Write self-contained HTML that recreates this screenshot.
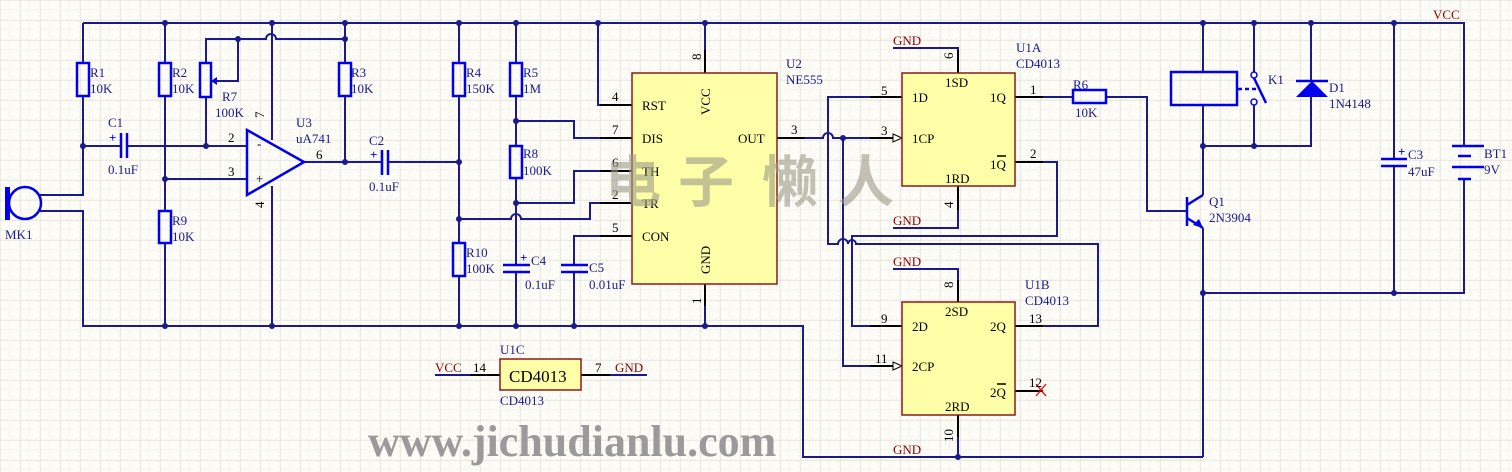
<!DOCTYPE html>
<html><head><meta charset="utf-8"><style>
html,body{margin:0;padding:0;background:#fdfcf7;}
svg{display:block;}
text{font-family:"Liberation Serif",serif;font-size:13px;fill:#1a1a8c;}
.r{fill:#8b0000;}
.k{fill:#000;}
.wm{font-family:"Noto Sans CJK SC",sans-serif;font-size:56px;font-weight:bold;fill:#9c9a86;opacity:0.6;}
</style></head><body>
<svg width="1512" height="472" viewBox="0 0 1512 472" xmlns="http://www.w3.org/2000/svg">
<defs>
<pattern id="g1" width="10" height="10" patternUnits="userSpaceOnUse"><path d="M10 0V10M0 10H10" stroke="#e6e4de" stroke-width="1" stroke-dasharray="3,2" fill="none"/></pattern>
<pattern id="g2" width="20" height="20" patternUnits="userSpaceOnUse"><path d="M0 0V20M0 0H20" stroke="#dcdad4" stroke-width="1" fill="none"/></pattern>
</defs>
<rect width="1512" height="472" fill="#fdfcf7"/>
<rect width="1512" height="472" fill="url(#g1)"/>
<rect width="1512" height="472" fill="url(#g2)"/>

<text x="368" y="456" style="font-size:44px;font-weight:bold;fill:#9a9a9a;">www.jichudianlu.com</text>

<!-- wires -->
<g stroke="#1a1a8c" stroke-width="2" fill="none">
<path d="M83 23H1464V146"/>
<path d="M83 23V63M83 96V195H40M40 211H83V326H803V457H1203"/>
<path d="M83 146H121M127 146H247"/>
<path d="M165 23V63M165 96V211M165 243V326"/>
<path d="M165 179H247"/>
<path d="M206 146V97M206 63V39H266a5 5 0 0 1 10 0H345"/>
<path d="M238 39V81H213"/>
<path d="M272 23V140M272 186V326"/>
<path d="M304 162H382M388 162H459"/>
<path d="M345 23V63M345 96V162"/>
<path d="M459 23V63M459 96V243M459 276V326"/>
<path d="M459 219H511a5 5 0 0 1 10 0H590V203H632"/>
<path d="M516 23V63M516 96V146M516 178V265M516 272V326"/>
<path d="M516 121H574V138H632"/>
<path d="M516 203H574V171H632"/>
<path d="M598 23V105H632"/>
<path d="M574 326V272M574 265V236H632"/>
<path d="M705 23V73M705 284V326"/>
<path d="M777 138H823a5 5 0 0 1 10 0H893"/>
<path d="M902 97H828V244H838a5 5 0 0 1 10 0h0a4 4 0 0 1 8 0H1098V326H1015"/>
<path d="M843 138V366H893"/>
<path d="M1015 162H1057V236H852V326H902"/>
<path d="M893 48H958V73M893 228H958V186M893 269H958V302M958 415V457"/>
<path d="M1015 97H1073M1106 97H1147V211H1187"/>
<path d="M1203 23V72M1203 105V195M1203 228V457"/>
<path d="M1203 146H1311V97M1311 23V81M1254 23V72M1254 105V146"/>
<path d="M1394 23V159M1394 166V293M1464 179V293H1203"/>
<path d="M435 375H500M581 375H647"/>
</g>
<g stroke="#000" stroke-width="2">
<path d="M600 105H632M600 138H632M600 171H632M600 203H632M600 236H632M705 50V73M705 284V306M777 138H805"/>
<path d="M870 97H902M870 138H893M958 50V73M958 186V210M1015 97H1043M1015 162H1043"/>
<path d="M870 326H902M870 366H893M958 280V302M958 415V437M1015 326H1043M1015 391H1043"/>
<path d="M470 375H500M581 375H610"/>
</g>
<path d="M893 134L902 138L893 142Z" fill="#fff" stroke="#000" stroke-width="1"/>
<path d="M893 362L902 366L893 370Z" fill="#fff" stroke="#000" stroke-width="1"/>
<g fill="#1a1a8c">
<circle cx="165" cy="23" r="3"/><circle cx="272" cy="23" r="3"/><circle cx="345" cy="23" r="3"/><circle cx="459" cy="23" r="3"/><circle cx="516" cy="23" r="3"/><circle cx="598" cy="23" r="3"/><circle cx="705" cy="23" r="3"/>
<circle cx="1203" cy="23" r="3"/><circle cx="1254" cy="23" r="3"/><circle cx="1311" cy="23" r="3"/><circle cx="1394" cy="23" r="3"/>
<circle cx="83" cy="146" r="3"/><circle cx="206" cy="146" r="3"/><circle cx="165" cy="179" r="3"/><circle cx="238" cy="39" r="3"/><circle cx="345" cy="39" r="3"/><circle cx="345" cy="162" r="3"/>
<circle cx="459" cy="162" r="3"/><circle cx="459" cy="219" r="3"/><circle cx="516" cy="121" r="3"/><circle cx="516" cy="203" r="3"/>
<circle cx="165" cy="326" r="3"/><circle cx="272" cy="326" r="3"/><circle cx="459" cy="326" r="3"/><circle cx="516" cy="326" r="3"/><circle cx="574" cy="326" r="3"/><circle cx="705" cy="326" r="3"/>
<circle cx="843" cy="138" r="3"/><circle cx="958" cy="457" r="3"/><circle cx="1203" cy="146" r="3"/><circle cx="1254" cy="146" r="3"/><circle cx="1203" cy="293" r="3"/><circle cx="1394" cy="293" r="3"/>
</g>
<g stroke="#0000ee" stroke-width="2.5" fill="none">
<rect x="77" y="63" width="12" height="33"/>
<rect x="159" y="63" width="12" height="33"/>
<rect x="200" y="63" width="11" height="34"/>
<rect x="339" y="63" width="12" height="33"/>
<rect x="159" y="211" width="12" height="32"/>
<rect x="453" y="63" width="12" height="33"/>
<rect x="510" y="63" width="12" height="33"/>
<rect x="510" y="146" width="12" height="32"/>
<rect x="453" y="243" width="12" height="33"/>
<rect x="1073" y="90" width="33" height="13"/>
<rect x="1171" y="72" width="66" height="33"/>
<path d="M121 133V158M127 133V158M382 150V175M388 150V175"/>
<path d="M503 265H530M503 272H530M561 265H588M561 272H588"/>
<path d="M1381 159H1407M1381 166H1407"/>
<path d="M1452 146H1484M1458 156H1471M1452 167H1484M1458 179H1471"/>
<path d="M247 130V195L304 162Z"/>
<path d="M1187 197V226M1187 205L1203 195M1187 218L1203 228"/>
<path d="M1254 78L1266 103"/>
<path d="M1238 89H1258" stroke-dasharray="4,3"/>
<path d="M1296 81H1328"/>
<circle cx="25" cy="203" r="16"/>
</g>
<path d="M211 81L217 77V85Z" fill="#0000ee"/>
<path d="M1296 97L1312 81L1328 97Z" fill="#0000ee"/>
<path d="M1203 228L1193 225L1199 219Z" fill="#0000ee"/>
<circle cx="1254" cy="75" r="3" fill="#fff" stroke="#0000ee" stroke-width="1.5"/>
<circle cx="1254" cy="102" r="3" fill="#fff" stroke="#0000ee" stroke-width="1.5"/>
<rect x="5" y="187" width="5" height="33" fill="#0000ee"/>
<path d="M1036 384l10 12M1046 384l-10 12" stroke="#e00" stroke-width="1.3"/>
<text x="109" y="142" style="fill:#0000ee;font-weight:bold">+</text>
<text x="370" y="159" style="fill:#0000ee;font-weight:bold">+</text>
<text x="520" y="262" style="fill:#0000ee;font-weight:bold">+</text>
<text x="1398" y="156" style="fill:#0000ee;font-weight:bold">+</text>
<g fill="#ffffa8" stroke="#8b1a1a" stroke-width="1.5">
<rect x="632" y="73" width="145" height="211"/>
<rect x="902" y="73" width="113" height="113"/>
<rect x="902" y="302" width="113" height="113"/>
<rect x="500" y="359" width="81" height="31"/>
</g>
<text x="90" y="77">R1</text><text x="90" y="93">10K</text>
<text x="172" y="77">R2</text><text x="172" y="93">10K</text>
<text x="222" y="101">R7</text><text x="215" y="117">100K</text>
<text x="351" y="77">R3</text><text x="351" y="93">10K</text>
<text x="172" y="225">R9</text><text x="172" y="241">10K</text>
<text x="108" y="127">C1</text><text x="108" y="174">0.1uF</text>
<text x="369" y="145">C2</text><text x="369" y="191">0.1uF</text>
<text x="296" y="127">U3</text><text x="296" y="143">uA741</text>
<text x="5" y="239">MK1</text>
<text x="228" y="142" class="k">2</text><text x="228" y="176" class="k">3</text><text x="316" y="159" class="k">6</text>
<text x="257" y="148" class="k">-</text><text x="256" y="183" class="k">+</text>
<text class="k" transform="translate(264,118) rotate(-90)">7</text>
<text class="k" transform="translate(264,208) rotate(-90)">4</text>
<text x="466" y="77">R4</text><text x="466" y="93">150K</text>
<text x="523" y="77">R5</text><text x="523" y="93">1M</text>
<text x="523" y="158">R8</text><text x="523" y="175">100K</text>
<text x="466" y="257">R10</text><text x="466" y="273">100K</text>
<text x="531" y="265">C4</text><text x="525" y="289">0.1uF</text>
<text x="589" y="272">C5</text><text x="589" y="289">0.01uF</text>
<text x="786" y="68">U2</text><text x="786" y="84">NE555</text>
<text x="642" y="110" class="k">RST</text><text x="642" y="143" class="k">DIS</text><text x="642" y="176" class="k">TH</text><text x="642" y="208" class="k">TR</text><text x="642" y="241" class="k">CON</text><text x="738" y="143" class="k">OUT</text>
<text class="k" transform="translate(710,115) rotate(-90)">VCC</text>
<text class="k" transform="translate(710,274) rotate(-90)">GND</text>
<text x="612" y="101" class="k">4</text><text x="612" y="134" class="k">7</text><text x="612" y="167" class="k">6</text><text x="612" y="199" class="k">2</text><text x="612" y="232" class="k">5</text>
<text class="k" transform="translate(701,60) rotate(-90)">8</text>
<text class="k" transform="translate(701,304) rotate(-90)">1</text>
<text x="791" y="134" class="k">3</text>
<text x="881" y="95" class="k">5</text><text x="881" y="135" class="k">3</text>
<text x="1030" y="94" class="k">1</text><text x="1030" y="158" class="k">2</text>
<text x="945" y="87" class="k">1SD</text><text x="912" y="102" class="k">1D</text><text x="990" y="102" class="k">1Q</text><text x="912" y="143" class="k">1CP</text><text x="990" y="169" class="k">1Q</text><text x="945" y="183" class="k">1RD</text>
<text class="k" transform="translate(953,59) rotate(-90)">6</text>
<text class="k" transform="translate(953,208) rotate(-90)">4</text>
<text x="945" y="316" class="k">2SD</text><text x="912" y="331" class="k">2D</text><text x="990" y="331" class="k">2Q</text><text x="912" y="371" class="k">2CP</text><text x="990" y="397" class="k">2Q</text><text x="945" y="411" class="k">2RD</text>
<text class="k" transform="translate(953,288) rotate(-90)">8</text>
<text class="k" transform="translate(953,442) rotate(-90)">10</text>
<text x="881" y="323" class="k">9</text><text x="875" y="363" class="k">11</text><text x="1029" y="323" class="k">13</text><text x="1029" y="387" class="k">12</text>
<text x="473" y="372" class="k">14</text><text x="595" y="372" class="k">7</text>
<path d="M997 156H1006M997 384H1006" stroke="#000" stroke-width="1.5"/>
<text x="1016" y="52">U1A</text><text x="1016" y="68">CD4013</text>
<text x="1025" y="289">U1B</text><text x="1025" y="305">CD4013</text>
<text x="1073" y="89">R6</text><text x="1075" y="117">10K</text>
<text x="1268" y="84">K1</text>
<text x="1329" y="92">D1</text><text x="1329" y="108">1N4148</text>
<text x="1209" y="206">Q1</text><text x="1209" y="222">2N3904</text>
<text x="1408" y="159">C3</text><text x="1408" y="176">47uF</text>
<text x="1484" y="158">BT1</text><text x="1484" y="174">9V</text>
<text x="1433" y="19" class="r">VCC</text>
<text x="893" y="45" class="r">GND</text><text x="893" y="225" class="r">GND</text><text x="893" y="266" class="r">GND</text><text x="893" y="454" class="r">GND</text>
<text x="435" y="372" class="r">VCC</text><text x="615" y="372" class="r">GND</text>
<text x="500" y="354">U1C</text><text x="500" y="405">CD4013</text>
<text x="509" y="382" class="k" style="font-size:17px">CD4013</text>

<!-- watermark on top -->
<text x="605" y="202" class="wm">电</text>
<text x="678" y="202" class="wm">子</text>
<text x="762" y="202" class="wm">懒</text>
<text x="838" y="202" class="wm">人</text>
</svg>
</body></html>
